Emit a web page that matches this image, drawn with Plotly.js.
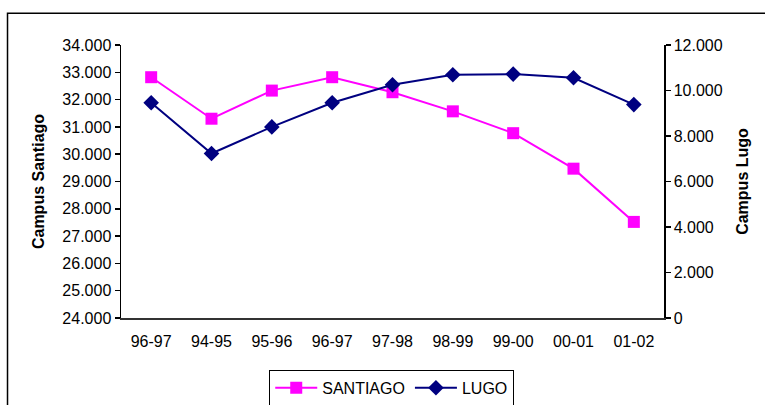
<!DOCTYPE html>
<html>
<head>
<meta charset="utf-8">
<script src="https://cdn.plot.ly/plotly-3.0.1.min.js"></script>
<style>html,body{margin:0;padding:0;background:#fff;}#chart{width:765px;height:405px;}</style>
</head>
<body>
<div id="chart"></div>
<script>
const categories = ["96-97","94-95","95-96","96-97","97-98","98-99","99-00","00-01","01-02"];
const santiago = [32820, 31300, 32330, 32820, 32270, 31570, 30770, 29470, 27520];
const lugo = [9460, 7230, 8400, 9460, 10250, 10690, 10720, 10560, 9380];
const leftTicks = [24000,25000,26000,27000,28000,29000,30000,31000,32000,33000,34000];
const rightTicks = [0,2000,4000,6000,8000,10000,12000];

const idx = categories.map((c,i)=>i);
const bounds = categories.map((c,i)=>i-0.5).concat([categories.length-0.5]);
const xr = [-0.5, categories.length-0.5];
const FONT = 'Liberation Sans, Arial, sans-serif';

const traces = [
  {x: idx, y: santiago, name: 'SANTIAGO', type: 'scatter', mode: 'lines+markers',
   line: {color: '#FF00FF', width: 2}, marker: {symbol: 'square', size: 12, color: '#FF00FF'}, yaxis: 'y'},
  {x: idx, y: lugo, name: 'LUGO', type: 'scatter', mode: 'lines+markers',
   line: {color: '#000080', width: 2}, marker: {symbol: 'diamond', size: 12, color: '#000080'}, yaxis: 'y2'}
];

const tickFont = {family: FONT, size: 16, color: '#000'};
const layout = {
  width: 765, height: 405,
  margin: {l: 120.5, r: 101, t: 44.5, b: 87, autoexpand: false},
  paper_bgcolor: '#fff', plot_bgcolor: '#fff',
  separators: ',.',
  showlegend: true,
  font: {family: FONT, color: '#000'},
  xaxis: {range: xr, tickvals: idx, ticktext: categories, ticks: '', showgrid: false, zeroline: false,
          showline: true, linecolor: '#333', linewidth: 2, tickfont: tickFont, fixedrange: true, ticklabelstandoff: 8},
  xaxis2: {overlaying: 'x', anchor: 'y', range: xr, tickvals: bounds, ticks: 'outside', ticklen: 5,
           tickcolor: '#333', tickwidth: 1.5, showticklabels: false, showgrid: false, zeroline: false, showline: false},
  xaxis3: {overlaying: 'x', anchor: 'y', range: xr, tickvals: bounds, ticks: 'inside', ticklen: 5,
           tickcolor: '#333', tickwidth: 1.5, showticklabels: false, showgrid: false, zeroline: false, showline: false},
  xaxis4: {overlaying: 'x', anchor: 'y', side: 'top', range: xr, showticklabels: false, ticks: '',
           showgrid: false, zeroline: false, showline: true, linecolor: '#808080', linewidth: 1.5},
  yaxis: {range: [24000, 34000], tickvals: leftTicks, tickformat: ',d', ticks: 'outside', ticklen: 5,
          tickcolor: '#000', tickwidth: 1.5, showline: true, linecolor: '#000', linewidth: 1.5,
          showgrid: false, zeroline: false, tickfont: tickFont,
          title: {text: '<b>Campus Santiago</b>', font: {family: FONT, size: 16, color: '#000'}, standoff: 14}},
  yaxis3: {overlaying: 'y', side: 'left', range: [24000, 34000], tickvals: leftTicks, ticks: 'inside', ticklen: 5,
           tickcolor: '#000', tickwidth: 1.5, showticklabels: false, showgrid: false, zeroline: false, showline: false},
  yaxis2: {overlaying: 'y', side: 'right', range: [0, 12000], tickvals: rightTicks, tickformat: ',d', ticks: 'outside',
           ticklen: 5, tickcolor: '#000', tickwidth: 1.5, showline: true, linecolor: '#000', linewidth: 1.5,
           showgrid: false, zeroline: false, tickfont: tickFont,
           title: {text: '<b>Campus Lugo</b>', font: {family: FONT, size: 16, color: '#000'}, standoff: 15}},
  yaxis4: {overlaying: 'y', side: 'right', range: [0, 12000], tickvals: rightTicks, ticks: 'inside', ticklen: 5,
           tickcolor: '#000', tickwidth: 1.5, showticklabels: false, showgrid: false, zeroline: false, showline: false},
  legend: {orientation: 'h', x: 0.4986, xanchor: 'center', y: -0.19, yanchor: 'top',
           bordercolor: '#000', borderwidth: 1, bgcolor: '#fff',
           font: {family: FONT, size: 16, color: '#000'}, itemwidth: 42, tracegroupgap: 0},
  shapes: [
    {type: 'rect', xref: 'paper', yref: 'paper', x0: -0.209, x1: 1.3, y0: -0.5, y1: 1.116,
     line: {color: '#000', width: 1.5}, fillcolor: 'rgba(0,0,0,0)', layer: 'below'}
  ]
};

Plotly.newPlot('chart', traces, layout, {staticPlot: true, displayModeBar: false});
</script>
</body>
</html>
